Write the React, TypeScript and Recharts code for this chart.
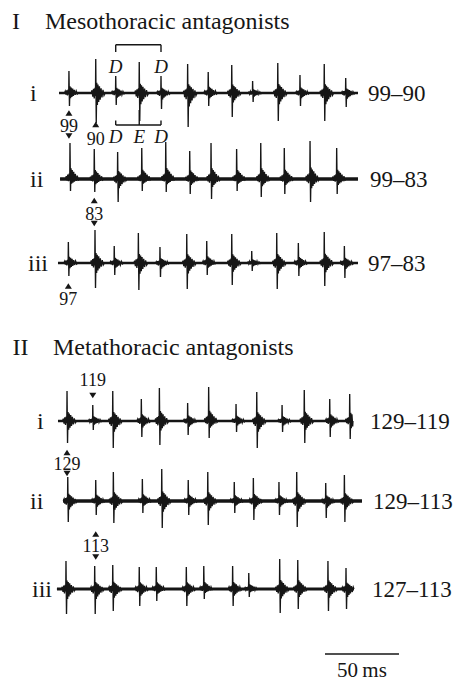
import React from 'react';
import { ComposedChart, Line, XAxis, YAxis, ReferenceLine, ReferenceDot } from 'recharts';

const FONT = "'Liberation Serif', 'Times New Roman', Times, serif";
const INK = '#161616';

// Every trace chart shares one time window (ms)
const FRAME_MS: [number, number] = [0, 270.27];

// ---- I  Mesothoracic antagonists ----
// spike times (ms), upward and downward peak sizes, recording span (ms)
const MESO_I_T = [12.8, 30.9, 44.4, 60.3, 75.0, 93.0, 106.9, 122.8, 136.9, 153.9, 168.9, 185.3, 199.8];
const MESO_I_UP = [22, 34, 17, 31, 17, 29, 21, 28, 12, 30, 18, 29, 15];
const MESO_I_DN = [13, 30, 12, 28, 16, 34, 13, 24, 9, 28, 13, 28, 14];
const MESO_I_SPAN: [number, number] = [6.1, 208.1];

const MESO_II_T = [13.5, 29.9, 45.7, 62.0, 78.2, 94.4, 108.8, 126.1, 142.4, 158.3, 175.7, 193.7];
const MESO_II_UP = [36, 30, 27, 31, 37, 28, 36, 30, 36, 31, 38, 31];
const MESO_II_DN = [12, 13, 23, 12, 13, 15, 20, 12, 18, 15, 23, 15];
const MESO_II_SPAN: [number, number] = [6.8, 208.1];

const MESO_III_T = [12.4, 30.4, 43.4, 59.7, 74.3, 92.4, 105.9, 122.8, 136.3, 153.2, 167.8, 185.3, 198.9];
const MESO_III_UP = [21, 33, 17, 30, 16, 29, 22, 29, 12, 30, 20, 31, 17];
const MESO_III_DN = [13, 25, 12, 27, 14, 26, 12, 22, 8, 26, 13, 23, 15];
const MESO_III_SPAN: [number, number] = [5.4, 208.1];

// ---- II  Metathoracic antagonists ----
const META_I_T = [11.5, 28.9, 42.4, 61.7, 73.9, 93.0, 107.2, 125.7, 139.7, 156.8, 171.8, 189.0, 202.5];
const META_I_UP = [30, 16, 30, 22, 33, 18, 34, 17, 29, 16, 31, 22, 27];
const META_I_DN = [22, 9, 27, 16, 24, 14, 17, 11, 27, 11, 22, 16, 18];
const META_I_SPAN: [number, number] = [5.4, 204.7];

const META_II_T = [12.0, 30.9, 42.8, 62.4, 75.5, 93.4, 106.6, 124.5, 137.4, 154.7, 166.7, 186.3, 198.9];
const META_II_UP = [24, 21, 29, 22, 32, 21, 29, 19, 23, 19, 29, 18, 26];
const META_II_DN = [21, 14, 22, 12, 27, 14, 24, 12, 19, 14, 26, 17, 21];
const META_II_SPAN: [number, number] = [8.8, 210.8];

const META_III_T = [10.8, 30.2, 42.4, 60.3, 71.8, 92.1, 103.9, 123.4, 134.3, 155.2, 167.4, 187.8, 200.0];
const META_III_UP = [28, 23, 24, 22, 22, 22, 23, 23, 16, 30, 29, 28, 21];
const META_III_DN = [25, 25, 22, 17, 12, 17, 10, 17, 8, 24, 20, 22, 20];
const META_III_SPAN: [number, number] = [4.7, 205.4];

// Text
const SECTION_NUMS = ['I', 'II'];
const SECTION_TITLES = ['Mesothoracic antagonists', 'Metathoracic antagonists'];
const TRACE_NAMES = ['i', 'ii', 'iii'];
const MESO_PAIRS = ['99–90', '99–83', '97–83'];
const META_PAIRS = ['129–119', '129–113', '127–113'];

// Step-cycle marking on mesothoracic trace i
const CYCLE_SPIKES = [2, 3, 4];
const CYCLE_LABELS = ['D', 'E', 'D'];

// Scale bar
const SCALE_MS = 50;
const SCALE_START_MS = 185.8;
const SCALE_LABEL = '50\u2009ms';

// Waveform of one unit discharge: [time offset ms, fraction of peak]
// (positive fractions scale the upward peak, negative the downward one)
const SPIKE_SHAPE: [number, number][] = [
  [-3.0, 0], [-2.5, 0.08], [-2.0, -0.12], [-1.5, 0.12], [-1.0, -0.18], [-0.5, 0.15], [-0.15, -0.1],
  [0, 1], [0.35, -1],
  [0.7, 0.3], [1.1, -0.4], [1.5, 0.25], [2.0, -0.3], [2.5, 0.2], [3.0, -0.22], [3.6, 0.14],
  [4.2, -0.15], [4.9, 0.09], [5.6, -0.08], [6.4, 0],
];

type Pt = { t: number; v: number };

function buildTrace(times: number[], ups: number[], downs: number[], span: [number, number]): Pt[] {
  const pts: Pt[] = [{ t: span[0], v: 0 }];
  times.forEach((t0, i) => {
    for (const [dt, f] of SPIKE_SHAPE) {
      const t = t0 + dt;
      if (t <= span[0] || t >= span[1]) continue;
      pts.push({ t, v: f >= 0 ? f * ups[i] : f * downs[i] });
    }
  });
  pts.push({ t: span[1], v: 0 });
  return pts;
}

type Mark = { spike: number; label: string; triUp?: number; text: number; triDown?: number };

type TraceDef = {
  times: number[];
  ups: number[];
  downs: number[];
  span: [number, number];
  name: string;
  pair: string;
  // layout
  baseline: number;
  nameX: number;
  pairX: number;
  noise: number;
  marks: Mark[];
  cycle?: boolean;
};

const CHART_LEFT = 50;
const CHART_W = 400;
const HALF = 70;
const CHART_H = HALF * 2;

const TRACES: TraceDef[] = [
  {
    times: MESO_I_T, ups: MESO_I_UP, downs: MESO_I_DN, span: MESO_I_SPAN,
    name: TRACE_NAMES[0], pair: MESO_PAIRS[0],
    baseline: 92.5, nameX: 30, pairX: 368, noise: 2.6, cycle: true,
    marks: [
      { spike: 0, label: '99', triUp: -20, text: -33, triDown: -43 },
      { spike: 1, label: '90', triUp: -31.5, text: -45.5 },
    ],
  },
  {
    times: MESO_II_T, ups: MESO_II_UP, downs: MESO_II_DN, span: MESO_II_SPAN,
    name: TRACE_NAMES[1], pair: MESO_PAIRS[1],
    baseline: 178.5, nameX: 30, pairX: 370, noise: 3.4,
    marks: [{ spike: 1, label: '83', triUp: -21.5, text: -34.5, triDown: -44.5 }],
  },
  {
    times: MESO_III_T, ups: MESO_III_UP, downs: MESO_III_DN, span: MESO_III_SPAN,
    name: TRACE_NAMES[2], pair: MESO_PAIRS[2],
    baseline: 263, nameX: 28, pairX: 368, noise: 2.6,
    marks: [{ spike: 0, label: '97', triUp: -23, text: -36 }],
  },
  {
    times: META_I_T, ups: META_I_UP, downs: META_I_DN, span: META_I_SPAN,
    name: TRACE_NAMES[0], pair: META_PAIRS[0],
    baseline: 420.5, nameX: 37, pairX: 370, noise: 2.4,
    marks: [
      { spike: 1, label: '119', text: 41.5, triDown: 25.5 },
      { spike: 0, label: '129', triUp: -31.5, text: -42.5, triDown: -52.5 },
    ],
  },
  {
    times: META_II_T, ups: META_II_UP, downs: META_II_DN, span: META_II_SPAN,
    name: TRACE_NAMES[1], pair: META_PAIRS[1],
    baseline: 501, nameX: 30, pairX: 373, noise: 3.4,
    marks: [{ spike: 1, label: '113', triUp: -33, text: -45, triDown: -56 }],
  },
  {
    times: META_III_T, ups: META_III_UP, downs: META_III_DN, span: META_III_SPAN,
    name: TRACE_NAMES[2], pair: META_PAIRS[2],
    baseline: 589, nameX: 32, pairX: 372, noise: 3.0,
    marks: [],
  },
];

const TriUp = (p: any) => (
  <polygon points={`${p.cx - 3.5},${p.cy + 2.8} ${p.cx + 3.5},${p.cy + 2.8} ${p.cx},${p.cy - 2.8}`} fill={INK} />
);
const TriDown = (p: any) => (
  <polygon points={`${p.cx - 3.5},${p.cy - 2.8} ${p.cx + 3.5},${p.cy - 2.8} ${p.cx},${p.cy + 2.8}`} fill={INK} />
);
const textShape = (value: string, size: number, italic = false) => (p: any) => (
  <text
    x={p.cx}
    y={p.cy}
    textAnchor="middle"
    dominantBaseline="central"
    fontFamily={FONT}
    fontSize={size}
    fontStyle={italic ? 'italic' : 'normal'}
    fill={INK}
  >
    {value}
  </text>
);

function TraceChart({ def }: { def: TraceDef }) {
  const trace = buildTrace(def.times, def.ups, def.downs, def.span);
  const base: Pt[] = [
    { t: def.span[0], v: 0 },
    { t: def.span[1], v: 0 },
  ];
  const st = (i: number) => def.times[i];
  const [c0, c1, c2] = CYCLE_SPIKES;
  return (
    <div style={{ position: 'absolute', left: CHART_LEFT, top: def.baseline - HALF }}>
      <ComposedChart width={CHART_W} height={CHART_H} margin={{ top: 0, right: 0, bottom: 0, left: 0 }}>
        <XAxis type="number" dataKey="t" domain={FRAME_MS} hide allowDataOverflow />
        <YAxis type="number" domain={[-HALF, HALF]} hide allowDataOverflow />
        <Line data={base} dataKey="v" stroke={INK} strokeWidth={def.noise} dot={false} isAnimationActive={false} />
        <Line data={trace} dataKey="v" stroke={INK} strokeWidth={1.35} dot={false} isAnimationActive={false} />
        {def.marks.map((m, k) => (
          <React.Fragment key={k}>
            {m.triUp !== undefined && (
              <ReferenceDot x={st(m.spike)} y={m.triUp} r={0} ifOverflow="visible" shape={TriUp} />
            )}
            <ReferenceDot x={st(m.spike)} y={m.text} r={0} ifOverflow="visible" shape={textShape(m.label, 18)} />
            {m.triDown !== undefined && (
              <ReferenceDot x={st(m.spike)} y={m.triDown} r={0} ifOverflow="visible" shape={TriDown} />
            )}
          </React.Fragment>
        ))}
        {def.cycle && (
          <>
            {/* bracket above: one cycle D to D */}
            <ReferenceLine segment={[{ x: st(c0), y: 48.2 }, { x: st(c2), y: 48.2 }]} stroke={INK} strokeWidth={1.4} ifOverflow="visible" />
            <ReferenceLine segment={[{ x: st(c0), y: 48.2 }, { x: st(c0), y: 41 }]} stroke={INK} strokeWidth={1.4} ifOverflow="visible" />
            <ReferenceLine segment={[{ x: st(c2), y: 48.2 }, { x: st(c2), y: 41 }]} stroke={INK} strokeWidth={1.4} ifOverflow="visible" />
            <ReferenceDot x={st(c0)} y={26.5} r={0} ifOverflow="visible" shape={textShape(CYCLE_LABELS[0], 19, true)} />
            <ReferenceDot x={st(c2)} y={26.5} r={0} ifOverflow="visible" shape={textShape(CYCLE_LABELS[2], 19, true)} />
            {/* bracket below with the E mark */}
            <ReferenceLine segment={[{ x: st(c0), y: -32 }, { x: st(c2), y: -32 }]} stroke={INK} strokeWidth={1.4} ifOverflow="visible" />
            <ReferenceLine segment={[{ x: st(c0), y: -32 }, { x: st(c0), y: -27.5 }]} stroke={INK} strokeWidth={1.4} ifOverflow="visible" />
            <ReferenceLine segment={[{ x: st(c2), y: -32 }, { x: st(c2), y: -27.5 }]} stroke={INK} strokeWidth={1.4} ifOverflow="visible" />
            <ReferenceLine segment={[{ x: st(c1), y: -17 }, { x: st(c1), y: -32 }]} stroke={INK} strokeWidth={1.4} ifOverflow="visible" />
            {CYCLE_SPIKES.map((s, k) => (
              <ReferenceDot key={k} x={st(s)} y={-43.5} r={0} ifOverflow="visible" shape={textShape(CYCLE_LABELS[k], 19, true)} />
            ))}
          </>
        )}
      </ComposedChart>
    </div>
  );
}

function ScaleBar() {
  const bar: Pt[] = [
    { t: SCALE_START_MS, v: 0 },
    { t: SCALE_START_MS + SCALE_MS, v: 0 },
  ];
  return (
    <div style={{ position: 'absolute', left: CHART_LEFT, top: 654 - 28 }}>
      <ComposedChart width={CHART_W} height={56} margin={{ top: 0, right: 0, bottom: 0, left: 0 }}>
        <XAxis type="number" dataKey="t" domain={FRAME_MS} hide allowDataOverflow />
        <YAxis type="number" domain={[-28, 28]} hide allowDataOverflow />
        <Line data={bar} dataKey="v" stroke={INK} strokeWidth={1.5} dot={false} isAnimationActive={false} />
        <ReferenceDot
          x={SCALE_START_MS + SCALE_MS / 2}
          y={-16}
          r={0}
          ifOverflow="visible"
          shape={textShape(SCALE_LABEL, 21)}
        />
      </ComposedChart>
    </div>
  );
}

const labelStyle = (left: number, top: number, size: number): React.CSSProperties => ({
  position: 'absolute',
  left,
  top,
  transform: 'translateY(-50%)',
  fontFamily: FONT,
  fontSize: size,
  lineHeight: 1,
  color: INK,
  whiteSpace: 'nowrap',
});

export default function App() {
  return (
    <div
      style={{
        position: 'absolute',
        left: 0,
        top: 0,
        width: 457,
        height: 682,
        background: '#fff',
        overflow: 'hidden',
      }}
    >
      <div style={labelStyle(12, 20.5, 24)}>{SECTION_NUMS[0]}</div>
      <div style={labelStyle(45, 20.5, 24)}>{SECTION_TITLES[0]}</div>
      <div style={labelStyle(12.5, 347, 24)}>{SECTION_NUMS[1]}</div>
      <div style={labelStyle(53, 347, 24)}>{SECTION_TITLES[1]}</div>

      {TRACES.map((d, k) => (
        <React.Fragment key={k}>
          <TraceChart def={d} />
          <div style={labelStyle(d.nameX, d.baseline, 24)}>{d.name}</div>
          <div style={labelStyle(d.pairX, d.baseline, 23)}>{d.pair}</div>
        </React.Fragment>
      ))}

      <ScaleBar />
    </div>
  );
}
